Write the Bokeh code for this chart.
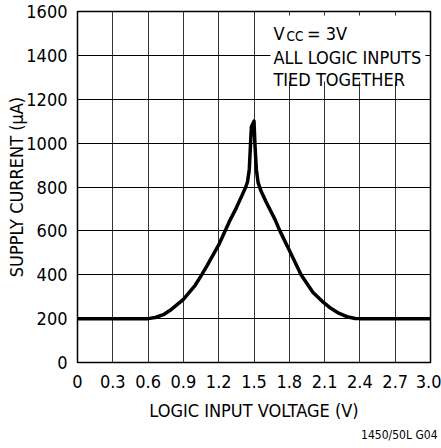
from bokeh.plotting import figure
from bokeh.models import Range1d, FixedTicker, BoxAnnotation, Label, Title
from bokeh.embed import file_html
from bokeh.resources import INLINE

# Data
voltage = [0.0, 0.6, 0.66, 0.73, 0.8, 0.9, 1.0, 1.05, 1.1, 1.2, 1.29, 1.35, 1.40, 1.43,
           1.445, 1.46, 1.47, 1.478, 1.50, 1.508, 1.52, 1.535, 1.556, 1.6, 1.68, 1.72,
           1.8, 1.9, 2.0, 2.08, 2.15, 2.22, 2.3, 2.36, 2.4, 3.0]
current = [200, 200, 205, 218, 243, 288, 352, 395, 440, 536, 642, 705, 764, 800,
           824, 880, 990, 1075, 1100, 995, 880, 820, 786, 735, 650, 600,
           512, 400, 320, 279, 248, 225, 207, 201, 200, 200]

x_ticks = [0, 0.3, 0.6, 0.9, 1.2, 1.5, 1.8, 2.1, 2.4, 2.7, 3.0]
x_tick_labels = ["0", "0.3", "0.6", "0.9", "1.2", "1.5", "1.8", "2.1", "2.4", "2.7", "3.0"]
y_ticks = [0, 200, 400, 600, 800, 1000, 1200, 1400, 1600]

FONT = "DejaVu Sans Condensed, Roboto, sans-serif"
FS = "18px"

p = figure(width=441, height=448, output_backend="svg", toolbar_location=None,
           x_range=Range1d(0, 3.0), y_range=Range1d(0, 1600),
           min_border_left=77, min_border_right=11, min_border_top=11, min_border_bottom=86)

p.outline_line_color = "black"
p.outline_line_width = 1.5
p.background_fill_color = "white"
p.border_fill_color = "white"

p.xaxis.ticker = FixedTicker(ticks=x_ticks)
p.xaxis.major_label_overrides = {t: l for t, l in zip(x_ticks, x_tick_labels)}
p.yaxis.ticker = FixedTicker(ticks=y_ticks)

for ax in (p.xaxis, p.yaxis):
    ax.axis_line_color = None
    ax.major_tick_line_color = None
    ax.minor_tick_line_color = None
    ax.major_tick_out = 0
    ax.major_tick_in = 0
    ax.major_label_text_font = FONT
    ax.major_label_text_font_size = FS
    ax.major_label_text_color = "black"
    ax.axis_label_text_font = FONT
    ax.axis_label_text_font_size = FS
    ax.axis_label_text_font_style = "normal"
    ax.axis_label_text_color = "black"

p.xaxis.major_label_standoff = 12
p.yaxis.major_label_standoff = 10
p.xaxis.axis_label = "LOGIC INPUT VOLTAGE (V)"
p.xaxis.axis_label_standoff = 9
p.yaxis.axis_label = "SUPPLY CURRENT (µA)"
p.yaxis.axis_label_standoff = -4

p.xgrid.ticker = FixedTicker(ticks=x_ticks)
p.ygrid.ticker = FixedTicker(ticks=y_ticks)
p.xgrid.grid_line_color = "#333333"
p.ygrid.grid_line_color = "black"
p.xgrid.grid_line_width = 1
p.ygrid.grid_line_width = 1

# White box behind annotation text
p.add_layout(BoxAnnotation(left=1.64, right=2.957, bottom=1281, top=1582,
                           fill_color="white", fill_alpha=1.0, line_color=None))

p.line(voltage, current, line_color="black", line_width=3.5, line_join="round")

def lab(x, y, text, size=FS, align="left"):
    p.add_layout(Label(x=x, y=y, text=text, text_font=FONT, text_font_size=size,
                       text_color="black", text_baseline="alphabetic", text_align=align))

lab(1.665, 1500, "V")
lab(1.776, 1487, "CC", "13.5px")
lab(1.950, 1500, "= 3V")
lab(1.665, 1389, "ALL LOGIC INPUTS")
lab(1.665, 1290, "TIED TOGETHER")

# figure note below the axis title
note = Title(text="1450/50L G04", align="right", text_font=FONT, text_font_size="12px",
             text_font_style="normal", text_color="black", offset=-7, standoff=5)
p.add_layout(note, "below")

open("out.html", "w").write(file_html(p, INLINE))
